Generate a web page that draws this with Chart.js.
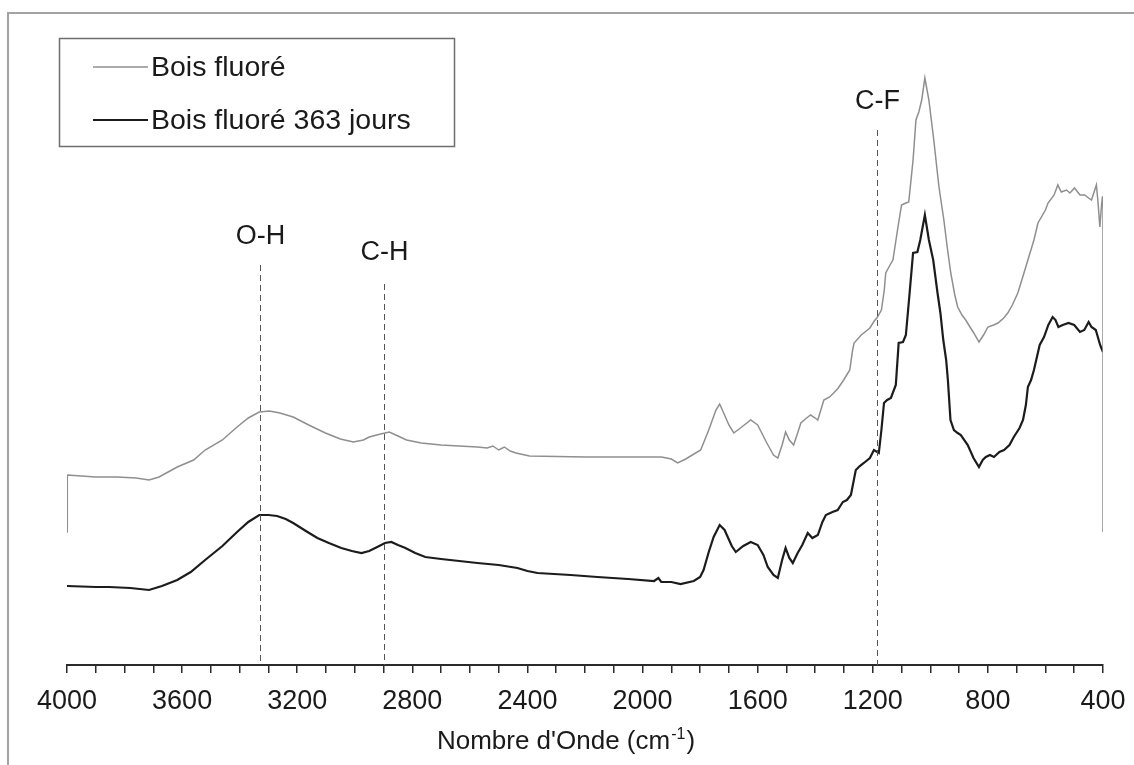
<!DOCTYPE html>
<html lang="fr">
<head>
  <meta charset="UTF-8" />
  <title>Spectre IR - Bois fluoré</title>
  <script src="https://cdn.jsdelivr.net/npm/chart.js"></script>
  <style>
    html, body {
      margin: 0;
      padding: 0;
      background: #ffffff;
    }
    #spectre {
      display: block;
    }
  </style>
</head>
<body>
  <canvas id="spectre" width="1134" height="765"></canvas>

  <script>
    // Bois fluoré (courbe grise)
    const nombreOndeFluore = [4000, 3999, 3900, 3826, 3760, 3715, 3680, 3617, 3560, 3520, 3460, 3409, 3370, 3332, 3297, 3260, 3214, 3160, 3102, 3050, 3005, 2970, 2950, 2910, 2880, 2850, 2820, 2769, 2700, 2574, 2540, 2520, 2500, 2480, 2460, 2440, 2393, 2200, 2000, 1934, 1900, 1878, 1850, 1798, 1770, 1745, 1732, 1715, 1700, 1683, 1660, 1624, 1600, 1570, 1545, 1530, 1515, 1503, 1490, 1475, 1460, 1450, 1430, 1416, 1400, 1391, 1370, 1350, 1336, 1320, 1301, 1280, 1270, 1265, 1240, 1210, 1195, 1186, 1170, 1160, 1155, 1140, 1130, 1113, 1100, 1085, 1075, 1060, 1050, 1040, 1030, 1019, 1005, 988, 970, 953, 940, 929, 915, 905, 890, 877, 860, 849, 831, 815, 800, 780, 765, 745, 731, 715, 696, 680, 661, 640, 626, 600, 591, 570, 557, 545, 527, 515, 499, 480, 464, 450, 440, 423, 418, 411, 405, 402, 400, 400];
    const absFluore = [133, 190, 188, 188, 187, 185, 188, 198, 205, 215, 225, 238, 247, 253, 254, 252, 248, 240, 232, 226, 223, 225, 228, 231, 233, 229, 225, 222, 220, 218, 217, 219, 215, 218, 214, 212, 209, 208, 208, 208, 206, 202, 206, 215, 235, 255, 261, 250, 240, 232, 237, 245, 240, 223, 210, 207, 220, 233, 225, 220, 233, 242, 247, 250, 247, 245, 265, 268, 272, 277, 285, 295, 315, 322, 330, 337, 344, 347, 355, 375, 392, 400, 405, 437, 460, 462, 463, 505, 545, 553, 565, 587, 565, 525, 478, 445, 415, 392, 370, 358, 350, 345, 337, 332, 323, 330, 338, 340, 342, 347, 352, 360, 372, 387, 405, 425, 442, 455, 462, 470, 480, 473, 475, 472, 477, 470, 470, 467, 465, 480, 465, 438, 460, 468, 468, 133];

    // Bois fluoré 363 jours (courbe noire)
    const nombreOnde363 = [4000, 3900, 3854, 3780, 3715, 3670, 3617, 3570, 3520, 3460, 3409, 3370, 3332, 3300, 3270, 3240, 3214, 3170, 3130, 3090, 3047, 3010, 2977, 2950, 2922, 2895, 2873, 2850, 2824, 2790, 2755, 2700, 2574, 2500, 2435, 2400, 2365, 2250, 2157, 2050, 1960, 1945, 1935, 1900, 1868, 1822, 1800, 1788, 1770, 1753, 1732, 1715, 1704, 1690, 1676, 1650, 1624, 1600, 1580, 1565, 1545, 1530, 1515, 1503, 1490, 1478, 1461, 1445, 1426, 1410, 1391, 1375, 1363, 1340, 1322, 1304, 1290, 1276, 1259, 1245, 1231, 1210, 1196, 1179, 1170, 1161, 1150, 1137, 1120, 1110, 1095, 1085, 1072, 1060, 1045, 1035, 1019, 1005, 990, 975, 965, 955, 945, 939, 930, 918, 905, 894, 870, 850, 831, 818, 807, 793, 779, 760, 744, 725, 710, 690, 678, 668, 661, 650, 640, 620, 605, 590, 575, 565, 555, 540, 520, 500, 480, 465, 450, 440, 425, 410, 400];
    const abs363 = [79, 78, 78, 77, 75, 79, 85, 93, 105, 119, 133, 143, 150, 150, 149, 146, 142, 134, 127, 122, 117, 114, 112, 114, 118, 122, 123, 120, 117, 112, 108, 106, 102, 100, 97, 94, 92, 90, 88, 86, 84, 87, 83, 83, 81, 84, 88, 95, 113, 128, 140, 135, 128, 119, 113, 119, 123, 120, 110, 98, 90, 87, 105, 117, 107, 102, 112, 120, 132, 127, 130, 143, 150, 153, 155, 163, 165, 170, 195, 199, 202, 207, 215, 212, 235, 262, 265, 267, 280, 322, 323, 330, 372, 412, 413, 425, 450, 425, 405, 372, 352, 325, 305, 285, 245, 235, 232, 230, 220, 207, 198, 205, 208, 210, 208, 213, 215, 220, 228, 237, 245, 260, 278, 285, 295, 320, 328, 340, 348, 345, 338, 340, 342, 340, 333, 335, 343, 338, 335, 320, 313];

    // bandes repérées
    const bandes = ['O-H', 'C-H', 'C-F'];
    const bandesOnde = [3330, 2900, 1185];
    const bandesHautTexte = [428, 412, 563];
    const bandesHautTrait = [400, 381, 535];

    const police = "'Liberation Sans', Arial, sans-serif";

    const series = [
      { label: 'Bois fluoré', x: nombreOndeFluore, y: absFluore, couleur: '#8f8f8f', epaisseur: 1.5 },
      { label: 'Bois fluoré 363 jours', x: nombreOnde363, y: abs363, couleur: '#1c1c1c', epaisseur: 2.2 }
    ];

    const decor = {
      id: 'decor',
      beforeDraw(chart) {
        const ctx = chart.ctx;
        ctx.save();
        ctx.fillStyle = '#ffffff';
        ctx.fillRect(0, 0, chart.width, chart.height);
        // cadre
        ctx.strokeStyle = '#a3a3a3';
        ctx.lineWidth = 2;
        ctx.beginPath();
        ctx.moveTo(8, chart.height);
        ctx.lineTo(8, 13);
        ctx.lineTo(chart.width, 13);
        ctx.stroke();
        ctx.restore();
      },
      afterDatasetsDraw(chart) {
        const ctx = chart.ctx;
        const sx = chart.scales.x;
        const sy = chart.scales.y;
        ctx.save();

        // traits pointillés + étiquettes
        ctx.strokeStyle = '#555';
        ctx.lineWidth = 1;
        ctx.setLineDash([6, 4]);
        ctx.font = '27px ' + police;
        ctx.fillStyle = '#1a1a1a';
        ctx.textAlign = 'center';
        ctx.textBaseline = 'middle';
        bandes.forEach((b, i) => {
          const px = Math.round(sx.getPixelForValue(bandesOnde[i])) + 0.5;
          ctx.beginPath();
          ctx.moveTo(px, sy.getPixelForValue(bandesHautTrait[i]));
          ctx.lineTo(px, sy.getPixelForValue(0));
          ctx.stroke();
          ctx.fillText(b, px, sy.getPixelForValue(bandesHautTexte[i]));
        });
        ctx.setLineDash([]);

        // légende
        ctx.strokeStyle = '#6e6e6e';
        ctx.lineWidth = 1.5;
        ctx.strokeRect(59.5, 38.5, 395, 108);
        ctx.textAlign = 'left';
        ctx.font = '28.5px ' + police;
        series.forEach((s, i) => {
          const y = 67 + i * 53;
          ctx.strokeStyle = s.couleur;
          ctx.lineWidth = s.epaisseur;
          ctx.beginPath();
          ctx.moveTo(93, y);
          ctx.lineTo(148, y);
          ctx.stroke();
          ctx.fillStyle = '#1a1a1a';
          ctx.fillText(s.label, 151, y + 1);
        });

        // titre de l'axe
        const t1 = "Nombre d'Onde (cm";
        const t2 = '-1';
        const t3 = ')';
        ctx.font = '26px ' + police;
        const w1 = ctx.measureText(t1).width;
        const w3 = ctx.measureText(t3).width;
        ctx.font = '16px ' + police;
        const w2 = ctx.measureText(t2).width;
        let x0 = 566 - (w1 + w2 + w3 + 2) / 2;
        const yt = 742;
        ctx.font = '26px ' + police;
        ctx.fillText(t1, x0, yt);
        ctx.font = '16px ' + police;
        ctx.fillText(t2, x0 + w1 + 1, yt - 7);
        ctx.font = '26px ' + police;
        ctx.fillText(t3, x0 + w1 + w2 + 2, yt);
        ctx.restore();
      }
    };

    new Chart(document.getElementById('spectre'), {
      type: 'line',
      data: {
        datasets: series.map(s => ({
          label: s.label,
          data: s.x.map((v, i) => ({ x: v, y: s.y[i] })),
          borderColor: s.couleur,
          borderWidth: s.epaisseur,
          pointRadius: 0,
          tension: 0,
          fill: false
        }))
      },
      options: {
        responsive: false,
        animation: false,
        devicePixelRatio: 1,
        layout: { padding: { left: 67, right: 31, top: 20, bottom: 0 } },
        plugins: {
          legend: { display: false },
          tooltip: { enabled: false }
        },
        scales: {
          x: {
            type: 'linear',
            reverse: true,
            min: 400,
            max: 4000,
            afterFit: s => {
              s.height = 100;
              s.paddingLeft = 0;
              s.paddingRight = 0;
            },
            border: { display: true, color: '#2a2a2a', width: 2 },
            grid: { drawOnChartArea: false, drawTicks: true, tickLength: 8, color: '#2a2a2a', lineWidth: 1.5 },
            ticks: {
              stepSize: 100,
              autoSkip: false,
              maxRotation: 0,
              padding: 12,
              color: '#1a1a1a',
              font: { family: police, size: 27 },
              callback: v => (v % 400 === 0 ? String(v) : '')
            }
          },
          y: {
            display: false,
            min: 0,
            max: 645
          }
        }
      },
      plugins: [decor]
    });
  </script>
</body>
</html>
